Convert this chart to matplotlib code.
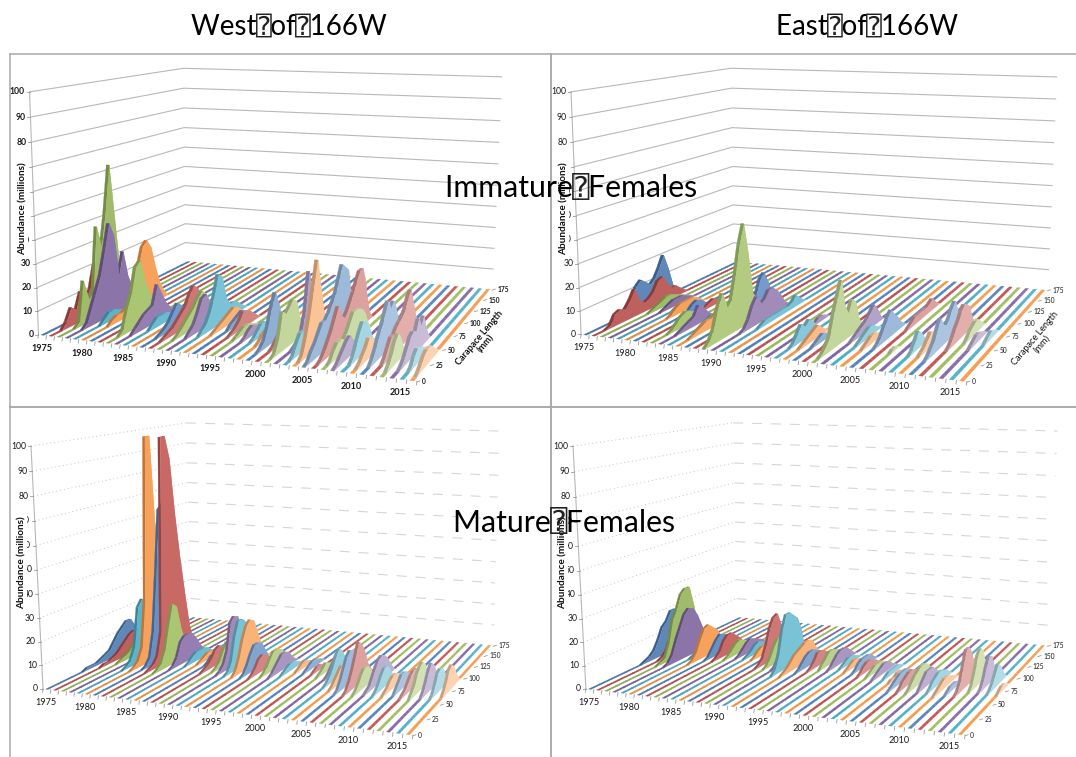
import numpy as np
import matplotlib
matplotlib.use("Agg")
import matplotlib.pyplot as plt
from matplotlib.collections import PolyCollection

YEARS = list(range(1975, 2017))
CL = list(range(0, 180, 5))
YEAR_TICKS = [1975, 1980, 1985, 1990, 1995, 2000, 2005, 2010, 2015]
CL_TICKS = [0, 25, 50, 75, 100, 125, 150, 175]
VALUE_TICKS = list(range(0, 110, 10))
HUES = ["#4F81BD", "#C0504D", "#9BBB59", "#8064A2", "#4BACC6", "#F79646"]

# year: (first carapace length, abundance at 5 mm steps)
WEST_IMMATURE = {
    1976: (15, [3, 8, 6, 13, 9, 12, 22, 15, 5, 2]),
    1977: (20, [2, 19, 10, 12, 40, 30, 45, 65, 40, 15, 8, 3]),
    1978: (20, [2, 8, 14, 20, 30, 41, 35, 16, 26, 14, 8, 3]),
    1979: (30, [2, 4, 4, 3, 2]),
    1980: (30, [2, 3, 3, 4, 6, 12, 20, 28, 30, 26, 16, 8, 3]),
    1981: (50, [2, 4, 3, 2]),
    1982: (45, [1, 2, 2, 1]),
    1983: (15, [2, 10, 16, 26, 28, 18, 12, 8, 3]),
    1984: (20, [2, 4, 6, 7, 8, 16, 11, 6, 3]),
    1985: (30, [2, 4, 4, 4, 3, 2]),
    1986: (40, [1, 2, 2, 1]),
    1987: (20, [1, 2, 4, 7, 10, 8, 7, 8, 5, 2]),
    1988: (15, [1, 2, 3, 5, 7, 9, 13, 16, 14, 8, 3]),
    1989: (20, [1, 3, 5, 7, 9, 12, 14, 12, 7, 2]),
    1990: (25, [2, 4, 8, 13, 14, 9, 6, 2]),
    1991: (30, [2, 4, 8, 14, 22, 20, 10, 6, 6, 5, 3, 1]),
    1992: (35, [1, 2, 3, 4, 5, 6, 5, 3, 1]),
    1993: (45, [2, 3, 4, 5, 4, 2]),
    1994: (35, [1, 2, 4, 7, 6, 5, 3, 1]),
    1995: (30, [1, 2, 3, 3, 2, 1]),
    1996: (30, [1, 3, 4, 3, 2, 1]),
    1997: (30, [1, 3, 5, 5, 3, 1]),
    1998: (25, [1, 3, 4, 3, 2]),
    1999: (15, [1, 3, 8, 15, 20, 14, 6, 2]),
    2000: (20, [1, 3, 5, 6, 3, 1]),
    2001: (10, [1, 6, 16, 14, 16, 18, 16, 8, 3]),
    2002: (25, [1, 2, 5, 12, 28, 18, 5, 1]),
    2003: (10, [1, 5, 8, 8, 4, 1]),
    2004: (10, [2, 8, 16, 26, 36, 25, 14, 8, 3, 1]),
    2005: (5, [1, 4, 6, 9, 12, 12, 14, 17, 20, 25, 30, 28, 26, 14, 6, 2]),
    2006: (10, [1, 3, 6, 9, 13, 17, 12, 10, 12, 15, 18, 22, 25, 25, 18, 8, 2]),
    2007: (10, [1, 4, 6, 6, 5, 7, 10, 13, 13, 12, 11, 8, 3]),
    2008: (5, [1, 3, 5, 7, 8, 5, 2]),
    2009: (15, [2, 6, 10, 13, 12, 9, 4, 1]),
    2010: (10, [1, 3, 5, 8, 7, 4, 1]),
    2011: (15, [2, 5, 9, 12, 16, 20, 16, 18, 14, 6, 2]),
    2012: (20, [2, 5, 8, 8, 10, 11, 12, 14, 18, 20, 14, 8, 3]),
    2013: (10, [2, 5, 9, 11, 8, 3, 1, 1, 1, 2, 4, 5, 3]),
    2014: (15, [1, 3, 6, 9, 10, 9, 13, 9, 12, 6, 2]),
    2015: (15, [1, 4, 6, 5, 4, 3, 1]),
    2016: (10, [1, 3, 5, 6, 6, 5, 3, 1]),
}
EAST_IMMATURE = {
    1975: (30, [1, 2, 4, 7, 11, 13, 11, 9, 11, 15, 20, 13, 4, 1]),
    1976: (15, [1, 5, 6, 5, 8, 12, 6, 4, 5, 7, 11, 12, 8, 5, 5, 3, 1]),
    1977: (50, [1, 2, 3, 4, 4, 3, 2, 1]),
    1978: (55, [1, 2, 3, 3, 3, 2, 1]),
    1979: (60, [1, 2, 2, 2, 1]),
    1980: (45, [1, 3, 4, 4, 4, 4, 3, 1]),
    1981: (55, [1, 3, 4, 3, 1]),
    1982: (65, [1, 2, 3, 2, 1]),
    1983: (20, [1, 3, 5, 6, 5, 3, 1]),
    1984: (20, [1, 2, 3, 4, 8, 6, 3, 1]),
    1985: (35, [1, 2, 3, 2, 1]),
    1986: (15, [1, 2, 3, 4, 4, 5, 7, 5, 2]),
    1987: (70, [1, 3, 6, 12, 14, 9, 3]),
    1988: (25, [1, 3, 5, 8, 7, 3, 1]),
    1989: (5, [2, 6, 14, 19, 12, 14, 24, 36, 44, 30, 12, 9, 4, 1]),
    1990: (35, [1, 4, 9, 12, 8, 9, 12, 12, 10, 7, 3, 1]),
    1991: (45, [1, 2, 2, 2, 2, 2, 2, 2, 3, 5, 3, 1]),
    1996: (60, [1, 2, 2, 1]),
    1997: (20, [1, 4, 7, 5, 7, 5, 2]),
    1998: (20, [1, 2, 3, 4, 5, 3, 1]),
    1999: (25, [1, 2, 3, 2, 1]),
    2000: (30, [1, 1]),
    2001: (10, [1, 3, 6, 14, 20, 26, 14, 10, 15, 13, 5, 1]),
    2002: (40, [1, 2, 3, 4, 5, 7, 9, 6, 2]),
    2003: (35, [1, 2, 3, 4, 4, 2, 1]),
    2004: (30, [1, 2, 3, 3, 2, 1]),
    2005: (35, [1, 3, 6, 9, 11, 8, 6, 3, 1]),
    2006: (70, [1, 2, 3, 3, 3, 3, 3, 4, 5, 3, 1]),
    2007: (30, [1, 1]),
    2009: (30, [1, 4, 7, 5, 2]),
    2010: (30, [1, 2, 4, 6, 5, 3, 1]),
    2011: (25, [1, 3, 5, 9, 12, 8, 7, 9, 12, 14, 9, 3]),
    2012: (45, [1, 3, 6, 8, 11, 13, 12, 10, 5, 1]),
    2013: (60, [1, 3, 4, 5, 5, 3, 1]),
    2014: (50, [1, 2, 3, 3, 2, 1]),
    2015: (60, [1, 2, 3, 2, 1]),
}
WEST_MATURE = {
    1975: (40, [1, 1, 1, 2, 3, 4, 7, 10, 12, 14, 14, 10, 5, 2]),
    1976: (50, [1, 1, 2, 3, 5, 7, 9, 10, 9, 6, 3, 1]),
    1977: (60, [1, 2, 3, 5, 7, 8, 6, 3, 1]),
    1978: (70, [1, 2, 3, 3, 2, 1]),
    1979: (50, [1, 3, 8, 25, 28, 26, 12, 3]),
    1980: (50, [1, 3, 8, 30, 105, 130, 50, 10, 2]),
    1981: (55, [1, 4, 15, 40, 68, 70, 35, 10, 2]),
    1982: (50, [1, 2, 5, 15, 108, 125, 90, 65, 45, 28, 12, 3, 1]),
    1983: (50, [1, 3, 8, 18, 27, 25, 14, 7, 3, 1]),
    1984: (60, [1, 4, 10, 12, 12, 11, 8, 4, 1]),
    1985: (70, [1, 3, 4, 4, 4, 3, 1]),
    1986: (75, [1, 2, 3, 3, 2, 1]),
    1987: (75, [1, 3, 3, 3, 2]),
    1988: (60, [1, 2, 4, 7, 8, 6, 3, 1]),
    1989: (65, [1, 3, 7, 10, 8, 4, 1]),
    1990: (60, [1, 3, 8, 20, 22, 21, 12, 4, 1]),
    1991: (60, [1, 5, 15, 21, 21, 19, 10, 3]),
    1992: (60, [2, 7, 14, 19, 21, 20, 14, 8, 3, 1]),
    1993: (60, [1, 4, 8, 11, 11, 10, 6, 2]),
    1994: (60, [1, 3, 6, 7, 6, 4, 2]),
    1995: (65, [1, 3, 6, 8, 8, 7, 5, 2]),
    1996: (65, [1, 3, 5, 7, 7, 6, 3, 1]),
    1997: (70, [1, 2, 3, 3, 2, 1]),
    1998: (80, [1, 2, 3, 2, 1]),
    1999: (80, [1, 2, 3, 3, 2, 1]),
    2000: (80, [1, 2, 2, 1]),
    2001: (75, [1, 2, 4, 3, 2]),
    2002: (75, [1, 3, 5, 5, 3, 1]),
    2003: (60, [1, 3, 6, 10, 12, 10, 6, 3, 1]),
    2004: (55, [1, 3, 5, 7, 6, 3, 1]),
    2005: (50, [1, 4, 8, 12, 14, 13, 10, 5, 2]),
    2006: (50, [1, 4, 8, 13, 18, 16, 12, 6, 3]),
    2007: (50, [1, 3, 6, 8, 8, 6, 3, 1]),
    2008: (55, [1, 2, 5, 8, 10, 11, 10, 8, 5, 2]),
    2009: (55, [1, 3, 6, 8, 8, 5, 2]),
    2010: (55, [1, 2, 4, 5, 5, 4, 2]),
    2011: (60, [2, 4, 6, 6, 5, 2, 1]),
    2012: (55, [1, 2, 4, 6, 7, 7, 5, 2]),
    2013: (55, [2, 4, 8, 10, 11, 9, 4, 2]),
    2014: (60, [2, 5, 9, 11, 9, 5, 2]),
    2015: (60, [1, 4, 8, 9, 8, 5, 2]),
    2016: (65, [2, 5, 9, 10, 8, 4, 1]),
}
EAST_MATURE = {
    1975: (55, [1, 2, 4, 8, 13, 15, 19, 19, 12, 5, 1]),
    1976: (65, [1, 3, 8, 10, 10, 7, 3]),
    1977: (55, [1, 2, 8, 18, 22, 28, 30, 30, 20, 8, 2]),
    1978: (55, [1, 4, 10, 15, 20, 22, 21, 17, 11, 5, 1]),
    1979: (75, [1, 2, 3, 3, 2, 1]),
    1980: (65, [1, 4, 9, 13, 14, 12, 10, 6, 3, 1]),
    1981: (75, [1, 4, 7, 9, 8, 7, 5, 2]),
    1982: (75, [1, 3, 7, 9, 9, 7, 5, 2]),
    1983: (80, [1, 3, 5, 6, 5, 4, 2]),
    1984: (85, [1, 3, 5, 6, 5, 4, 3, 1]),
    1985: (85, [1, 2, 4, 5, 4, 3, 2]),
    1986: (85, [1, 3, 4, 4, 2]),
    1987: (90, [1, 2, 2, 1]),
    1988: (70, [1, 3, 8, 15, 19, 20, 14, 5, 1]),
    1989: (70, [1, 4, 8, 11, 8, 3]),
    1990: (70, [1, 4, 10, 14, 14, 8, 2]),
    1991: (60, [2, 8, 18, 24, 24, 22, 20, 14, 4, 1]),
    1992: (60, [1, 2, 4, 6, 7, 8, 9, 9, 8, 4, 1]),
    1993: (70, [1, 3, 5, 6, 6, 5, 3, 1]),
    1994: (75, [1, 3, 6, 6, 5, 3, 1]),
    1995: (80, [2, 4, 6, 6, 5, 4, 2]),
    1996: (80, [1, 3, 5, 6, 6, 5, 3, 1]),
    1997: (85, [1, 2, 3, 3, 2, 1]),
    1998: (80, [1, 2, 3, 3, 2, 1]),
    1999: (80, [1, 3, 4, 4, 4, 3, 1]),
    2000: (75, [1, 3, 4, 4, 3, 2]),
    2001: (75, [1, 2, 3, 3, 3, 1]),
    2002: (70, [1, 2, 3, 4, 4, 3, 1]),
    2003: (75, [1, 2, 2, 2, 2, 1]),
    2004: (70, [1, 1, 2, 2, 1]),
    2005: (55, [1, 2, 3, 4, 4, 4, 3, 1]),
    2006: (55, [1, 3, 4, 5, 5, 4, 3, 1]),
    2007: (55, [1, 3, 5, 6, 7, 7, 6, 4, 1]),
    2008: (60, [2, 4, 6, 6, 6, 4, 2]),
    2009: (60, [1, 3, 4, 5, 5, 4, 3, 1]),
    2010: (55, [1, 2, 3, 4, 4, 3, 2, 1]),
    2011: (60, [1, 2, 2, 2, 1]),
    2012: (60, [1, 4, 10, 16, 16, 13, 7, 2]),
    2013: (70, [2, 7, 13, 15, 13, 7, 3]),
    2014: (70, [1, 4, 9, 12, 11, 6, 2]),
    2015: (70, [1, 3, 6, 9, 7, 4, 1]),
    2016: (70, [1, 2, 2, 1]),
}

FIG_W, FIG_H = 1076, 757
FONT = ["Lato", "DejaVu Sans", "DejaVu Sans Mono"]
TOFU = "\u2370"
GAP = "\u2002"
plt.rcParams["font.family"] = FONT


def calibrate(fl, fr, bl, br, fl_top, bl_top, br_top):
    """Fit a perspective camera from (year-frac, length-frac, value-frac) anchors."""
    anchors = [((0, 0, 0), fl), ((1, 0, 0), fr), ((0, 1, 0), bl), ((1, 1, 0), br),
               ((0, 0, 1), fl_top), ((0, 1, 1), bl_top), ((1, 1, 1), br_top)]
    rows, rhs = [], []
    for (t, s, v), (x, y) in anchors:
        rows.append([t, s, v, 1, 0, 0, 0, 0, -x * t, -x * s, -x * v]); rhs.append(x)
        rows.append([0, 0, 0, 0, t, s, v, 1, -y * t, -y * s, -y * v]); rhs.append(y)
    p = np.linalg.lstsq(np.array(rows, float), np.array(rhs, float), rcond=None)[0]
    return np.append(p, 1.0).reshape(3, 4)


def project(P, t, s, v):
    t, s, v = np.broadcast_arrays(t, s, np.asarray(v, float) / 100.0)
    q = np.stack([t, s, v, np.ones_like(t, float)], axis=-1) @ P.T
    return q[..., :2] / q[..., 2:3]


def shade(c, f):
    rgb = np.array(matplotlib.colors.to_rgb(c))
    return tuple(np.clip(rgb * f, 0, 1)) if f <= 1 else tuple(rgb + (1 - rgb) * (f - 1))


def draw_panel(rect, anchors, table, bold, solid, carapace, axis_title_xy, ribbon):
    x0, y0, x1, y1 = rect
    ax = fig.add_axes([x0 / FIG_W, 1 - y1 / FIG_H, (x1 - x0) / FIG_W, (y1 - y0) / FIG_H])
    ax.set_xlim(x0, x1)
    ax.set_ylim(y1, y0)
    ax.set_xticks([]); ax.set_yticks([])
    ax.patch.set_alpha(0)
    for sp in ax.spines.values():
        sp.set_color("#a9a9a9"); sp.set_linewidth(1.1)
    P = calibrate(*anchors)
    weight = "bold" if bold else "normal"
    tick_color = "#1a1a1a"

    for val in VALUE_TICKS[1:]:
        a, b, c = project(P, 0, 0, val), project(P, 0, 1, val), project(P, 1, 1, val)
        if solid:
            ax.plot([a[0], b[0], c[0]], [a[1], b[1], c[1]], color="#b8b8b8", lw=0.8, zorder=1)
        else:
            ax.plot([a[0], b[0]], [a[1], b[1]], color="#c4c4c4", lw=0.7, ls=(0, (1, 3)), zorder=1)
            ax.plot([b[0], c[0]], [b[1], c[1]], color="#d6d6d6", lw=0.8, ls=(0, (9, 8)), zorder=1)
    a, b = project(P, 0, 0, 0), project(P, 0, 0, 100)
    ax.plot([a[0], b[0]], [a[1], b[1]], color="#b8b8b8", lw=0.8, zorder=1)

    n = len(YEARS)
    s = np.array(CL, float) / CL[-1]
    for i, year in enumerate(YEARS):
        vals = np.zeros(len(CL))
        if year in table:
            first, prof = table[year]
            j = CL.index(first)
            vals[j:j + len(prof)] = prof
        vals = np.minimum(vals, VALUE_TICKS[-1])
        t0, t1 = (i + 0.5 - ribbon / 2) / n, (i + 0.5 + ribbon / 2) / n
        tint = -0.08 + 0.62 * i / (n - 1)
        base = HUES[i % 6]
        col = shade(base, 1 + tint)
        stripe = shade(base, 0.88 + 0.18 * i / (n - 1))
        polys, cols = [], []
        for j in range(len(CL) - 2, -1, -1):
            quad = project(P, np.array([t0, t0, t1, t1]),
                           np.array([s[j], s[j + 1], s[j + 1], s[j]]),
                           np.array([vals[j], vals[j + 1], vals[j + 1], vals[j]]))
            d = vals[j + 1] - vals[j]
            if vals[j] == 0 and vals[j + 1] == 0:
                c = stripe
            else:
                c = shade(col, 0.78 if d > 0.5 else (1.15 if d < -0.5 else 0.9))
            polys.append(quad); cols.append(c)
        ax.add_collection(PolyCollection(polys, facecolors=cols, edgecolors=cols, linewidths=0.2, zorder=3 + i))
        nz = np.nonzero(vals)[0]
        if len(nz):
            lo, hi = max(nz[0] - 1, 0), min(nz[-1] + 1, len(CL) - 1)
            top = project(P, t1, s, vals)
            foot = project(P, t1, s, 0 * vals)
            face = np.vstack([top[lo:hi + 1], foot[lo:hi + 1][::-1]])
            ax.add_collection(PolyCollection([face], facecolors=[shade(col, 1.12)], edgecolors="none", zorder=3 + i))

    tz = 60
    for i in range(n + 1):
        a = project(P, i / n, 0, 0)
        ax.plot([a[0], a[0] - 0.5], [a[1], a[1] + 3.5], color="#9a9a9a", lw=0.6, zorder=2)
    for year in YEAR_TICKS:
        a = project(P, (YEARS.index(year) + 0.5) / n, 0, 0)
        ax.text(a[0] - 1, a[1] + 13, str(year), fontsize=6.6, ha="center", va="center",
                weight=weight, color=tick_color, zorder=tz)
    for val in VALUE_TICKS:
        a = project(P, 0, 0, val)
        ax.plot([a[0] - 3, a[0]], [a[1], a[1]], color="#9a9a9a", lw=0.6, zorder=2)
        ax.text(a[0] - 5, a[1], str(val), fontsize=6.2, ha="right", va="center",
                weight=weight, color=tick_color, zorder=tz)
    for val in CL_TICKS:
        a = project(P, 1, val / CL[-1], 0)
        ax.plot([a[0], a[0] + 3], [a[1] + 0.5, a[1] - 0.5], color="#9a9a9a", lw=0.6, zorder=2)
        ax.text(a[0] + 5, a[1], str(val), fontsize=4.8, ha="left", va="center",
                weight=weight, color=tick_color, zorder=tz)
    ax.text(axis_title_xy[0], axis_title_xy[1], "Abundance (millions)", rotation=90, fontsize=7.2,
            ha="center", va="center", weight="bold", color="#111111", zorder=tz + 1,
            bbox=dict(facecolor="white", edgecolor="none", pad=0.6))
    if carapace:
        ax.text(carapace[0], carapace[1], "Carapace Length\n(mm)", rotation=50, fontsize=6.6,
                ha="center", va="center", weight=weight, color="#111111", zorder=tz,
                linespacing=1.0, rotation_mode="anchor", multialignment="center")
    return ax


fig = plt.figure(figsize=(FIG_W / 100, FIG_H / 100), dpi=100, facecolor="white")

draw_panel((10, 54, 551, 407),
           ((38, 334), (417, 382), (186, 262), (492, 289), (30, 92), (183, 68), (502, 77)),
           WEST_IMMATURE, True, True, (483, 341), (23, 209), 0.38)
draw_panel((551, 54, 1080, 407),
           ((580, 334), (967, 382), (735, 262), (1047, 290), (572, 92), (730, 68), (1057, 77)),
           EAST_IMMATURE, False, True, (1039, 341), (564, 209), 0.38)
draw_panel((10, 407, 551, 762),
           ((42, 689), (413, 735), (192, 617), (493, 646), (32, 446), (185, 423), (500, 431)),
           WEST_MATURE, False, False, None, (22, 563), 0.32)
draw_panel((551, 407, 1080, 762),
           ((585, 689), (965, 735), (738, 617), (1047, 646), (574, 446), (732, 423), (1058, 431)),
           EAST_MATURE, False, False, None, (563, 563), 0.32)

TITLES = [(191, 27, ["West", "of", "166W"], 20), (776, 27, ["East", "of", "166W"], 20),
          (445, 188, ["Immature", "Females"], 21.8), (453, 523, ["Mature", "Females"], 21.8)]
renderer = fig.canvas.get_renderer()
for x, y, words, size in TITLES:
    fig.text(x / FIG_W, 1 - y / FIG_H, GAP.join(words), fontsize=size, ha="left", va="center",
             color="black", family=FONT, zorder=100)
    # the reference prints a narrow "missing glyph" box over each word gap
    for k in range(1, len(words)):
        prefix = GAP.join(words[:k])
        probe = fig.text(0, 0, prefix, fontsize=size, family=FONT)
        w = probe.get_window_extent(renderer).width
        probe.remove()
        gap = size * 100 / 72 * 0.5
        fig.text((x + w + gap / 2) / FIG_W, 1 - y / FIG_H, TOFU, fontsize=size - 1, ha="center", va="center",
                 color="#222222", family=FONT, zorder=101)

fig.savefig("out.png", dpi=100)
